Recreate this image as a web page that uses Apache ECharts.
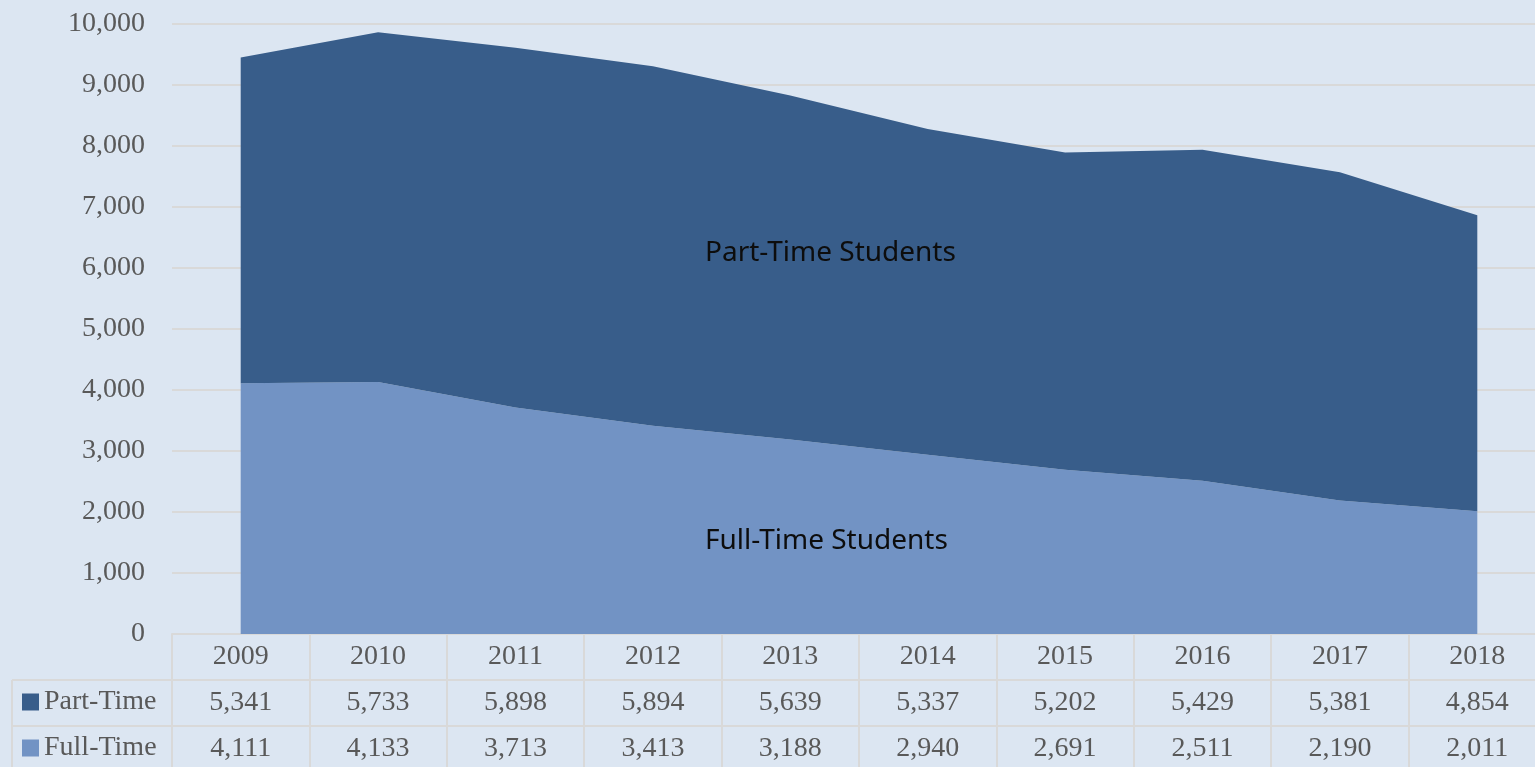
<!DOCTYPE html>
<html>
<head>
<meta charset="utf-8">
<script src="https://cdn.jsdelivr.net/npm/echarts@6/dist/echarts.min.js"></script>
<style>
  html, body { margin: 0; padding: 0; background: #dce6f2; }
  #chart { width: 1535px; height: 767px; }
</style>
</head>
<body>
<div id="chart"></div>
<script>
// enrolment by year
var years = ['2009', '2010', '2011', '2012', '2013', '2014', '2015', '2016', '2017', '2018']
var partTime = [5341, 5733, 5898, 5894, 5639, 5337, 5202, 5429, 5381, 4854]
var fullTime = [4111, 4133, 3713, 3413, 3188, 2940, 2691, 2511, 2190, 2011]

var serif = '"Liberation Serif", "DejaVu Serif", serif'
var grey = '#595959'
var lineGrey = '#d9d9d9'

function fmt(v) {
  return v.toLocaleString('en-US')
}

var chart = echarts.init(document.getElementById('chart'))

chart.setOption({
  backgroundColor: '#dce6f2',
  animation: false,
  grid: {
    left: 172,
    top: 24,
    height: 610,
    width: 1374,
    containLabel: false,
    outerBoundsMode: 'none'
  },
  legend: {
    data: ['Part-Time', 'Full-Time'],
    orient: 'vertical',
    left: 22,
    top: 688,
    padding: 0,
    itemWidth: 17,
    itemHeight: 17,
    itemGap: 18,
    icon: 'rect',
    textStyle: { fontFamily: serif, fontSize: 28, color: grey }
  },
  xAxis: {
    type: 'category',
    data: years,
    boundaryGap: true,
    axisLine: { lineStyle: { color: lineGrey, width: 2 } },
    axisTick: {
      show: true,
      interval: 0,
      length: 133,
      lineStyle: { color: lineGrey, width: 2 }
    },
    axisLabel: {
      interval: 0,
      margin: 0,
      fontFamily: serif,
      fontSize: 28,
      color: grey,
      lineHeight: 46,
      formatter: function (value, idx) {
        return value + '\n' + fmt(partTime[idx]) + '\n' + fmt(fullTime[idx])
      }
    }
  },
  yAxis: {
    type: 'value',
    min: 0,
    max: 10000,
    interval: 1000,
    axisLine: { show: false },
    axisTick: { show: false },
    splitLine: { lineStyle: { color: lineGrey, width: 2 } },
    axisLabel: {
      margin: 27,
      fontFamily: serif,
      fontSize: 28,
      color: grey,
      formatter: function (v) { return fmt(v) }
    }
  },
  series: [
    {
      name: 'Full-Time',
      type: 'line',
      stack: 'total',
      data: fullTime,
      symbol: 'none',
      lineStyle: { width: 0 },
      itemStyle: { color: '#7293c4' },
      areaStyle: { color: '#7293c4', opacity: 1 }
    },
    {
      name: 'Part-Time',
      type: 'line',
      stack: 'total',
      data: partTime,
      symbol: 'none',
      lineStyle: { width: 0 },
      itemStyle: { color: '#385d8a' },
      areaStyle: { color: '#385d8a', opacity: 1 }
    }
  ],
  graphic: [
    // table row lines
    { type: 'line', shape: { x1: 12, y1: 680, x2: 1535, y2: 680 }, style: { stroke: lineGrey, lineWidth: 2 } },
    { type: 'line', shape: { x1: 12, y1: 726, x2: 1535, y2: 726 }, style: { stroke: lineGrey, lineWidth: 2 } },
    { type: 'line', shape: { x1: 12, y1: 680, x2: 12, y2: 767 }, style: { stroke: lineGrey, lineWidth: 2 } },
    // area labels
    {
      type: 'text', x: 705, y: 253, z: 10,
      style: { text: 'Part-Time Students', fontFamily: '"Noto Sans", sans-serif', fontSize: 28, fill: '#0d0d0d', verticalAlign: 'middle' }
    },
    {
      type: 'text', x: 705, y: 541, z: 10,
      style: { text: 'Full-Time Students', fontFamily: '"Noto Sans", sans-serif', fontSize: 28, fill: '#0d0d0d', verticalAlign: 'middle' }
    }
  ]
})
</script>
</body>
</html>
